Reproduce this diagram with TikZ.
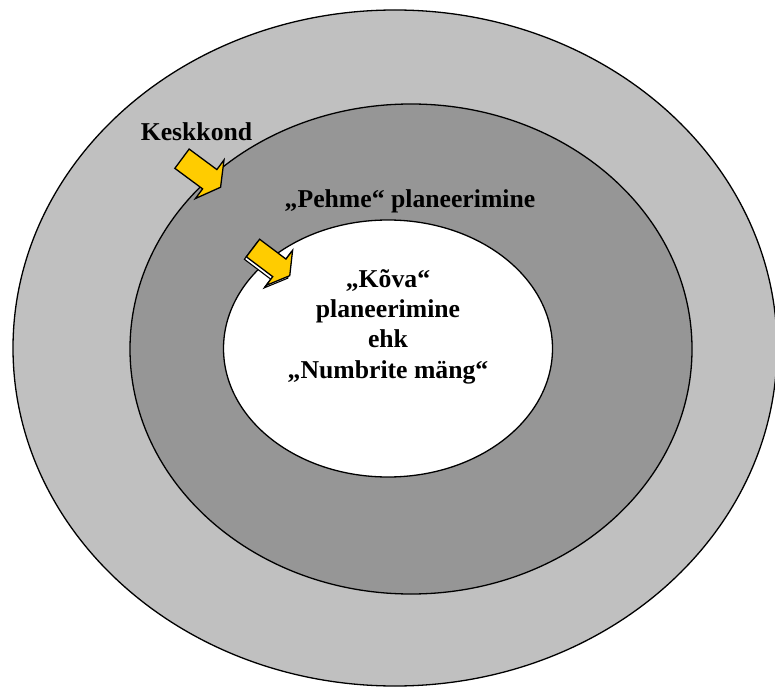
\documentclass[tikz,border=0pt]{standalone}
\usepackage{fontspec}
\setmainfont{Liberation Serif}
\definecolor{outergray}{HTML}{C0C0C0}
\definecolor{midgray}{HTML}{969696}
\definecolor{arrowyellow}{HTML}{FFCC00}
\tikzset{
  ring/.style={draw=black, line width=1.3pt},
  lbl/.style={font=\bfseries\fontsize{25.7}{30.2}\selectfont, inner sep=0pt, anchor=base},
  blockarrow/.style={fill=arrowyellow, draw=black, line width=1.3pt, line join=miter},
  arrowshadow/.style={fill=white, draw=black, line width=1.1pt}
}
\begin{document}
\begin{tikzpicture}[x=1pt,y=1pt]
\useasboundingbox (0,0) rectangle (775,686);
\clip (0,0) rectangle (775,686);
\fill[white] (0,0) rectangle (775,686);
% rings
\draw[ring, fill=outergray] (395,338) ellipse [x radius=382, y radius=338];
\draw[ring, fill=midgray] (411,337) ellipse [x radius=281, y radius=245];
\draw[ring, fill=white] (388,337.5) ellipse [x radius=164.5, y radius=128.5];
% arrow 1 (Keskkond -> Pehme)
\begin{scope}[shift={(182,527.3)}, rotate=-36.5]
  \draw[blockarrow] (0,-12) -- (34.5,-12) -- (34.5,-24) -- (48,0) -- (34.5,24) -- (34.5,12) -- (0,12) -- cycle;
\end{scope}
% arrow 2 (Pehme -> Kova), with shadow
\begin{scope}[shift={(251,435.5)}, rotate=-37]
  \draw[arrowshadow] (0,-11) -- (33,-11) -- (33,-22) -- (46,0) -- (33,22) -- (33,11) -- (0,11) -- cycle;
\end{scope}
\begin{scope}[shift={(253,438)}, rotate=-37]
  \draw[blockarrow] (0,-11) -- (33,-11) -- (33,-22) -- (46,0) -- (33,22) -- (33,11) -- (0,11) -- cycle;
\end{scope}
% labels
\node[lbl] (keskkond) at (196.5,545) {Keskkond};
\node[lbl] (pehme) at (410,478) {„Pehme“ planeerimine};
\node[lbl] (kova) at (388,398.2) {„Kõva“};
\node[lbl] (plan) at (388,368) {planeerimine};
\node[lbl] (ehk) at (388,338.2) {ehk};
\node[lbl] (numbrite) at (388,307.6) {„Numbrite mäng“};
\end{tikzpicture}
\end{document}
